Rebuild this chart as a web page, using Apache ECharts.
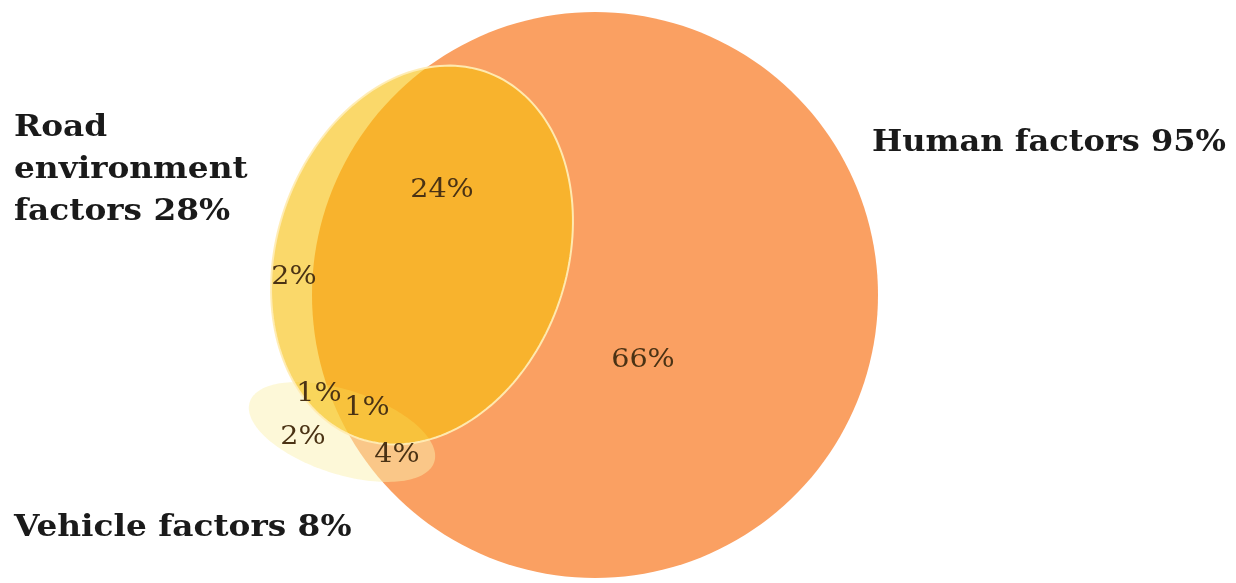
<!DOCTYPE html>
<html>
<head>
<meta charset="utf-8">
<script src="https://cdn.jsdelivr.net/npm/echarts@6/dist/echarts.min.js"></script>
<style>
html,body{margin:0;padding:0;background:#fff;}
#chart{width:1236px;height:583px;}
</style>
</head>
<body>
<div id="chart"></div>
<script>
// ---- data ----
const setNames = ['Human factors', 'Road\nenvironment\nfactors', 'Vehicle factors'];
const setTotals = [95, 28, 8];
const regionNames = ['Human only', 'Road ∩ Human', 'Road only', 'Road ∩ Vehicle', 'All three', 'Vehicle only', 'Vehicle ∩ Human'];
const regionValues = [66, 24, 2, 1, 1, 2, 4];

// ---- layout (positions / sizes in axis units = pixels) ----
const shapeLayout = [
  {cx: 595, cy: 295, rx: 283, ry: 283, rot: 0,  fill: '#FAA062', stroke: null},
  {cx: 422, cy: 255, rx: 145, ry: 194, rot: 19, fill: 'rgba(247,191,11,0.61)', stroke: 'rgba(255,236,180,0.95)'},
  {cx: 342, cy: 432, rx: 97,  ry: 42,  rot: 18, fill: 'rgba(251,241,175,0.49)', stroke: null}
];
// draw order: human, vehicle, road
const drawOrder = [0, 2, 1];
const regionPos = [[643, 360], [442, 190], [294, 277], [319, 394], [367, 408], [303, 437], [397, 455]];
const setLabelPos = [[872, 143], [14, 170], [14, 528]];
const setLabelScale = [1.105, 1.13, 1.13];

function ellipsePoints(s, api) {
  const pts = [];
  const n = 180;
  const r = s.rot * Math.PI / 180;
  for (let i = 0; i < n; i++) {
    const t = 2 * Math.PI * i / n;
    const ex = s.rx * Math.cos(t), ey = s.ry * Math.sin(t);
    const x = s.cx + ex * Math.cos(r) - ey * Math.sin(r);
    const y = s.cy + ex * Math.sin(r) + ey * Math.cos(r);
    pts.push(api.coord([x, y]));
  }
  return pts;
}

const chart = echarts.init(document.getElementById('chart'));
chart.setOption({
  backgroundColor: '#ffffff',
  animation: false,
  grid: {left: 0, right: 0, top: 0, bottom: 0},
  xAxis: {type: 'value', min: 0, max: 1236, show: false},
  yAxis: {type: 'value', min: 0, max: 583, inverse: true, show: false},
  series: [
    {
      type: 'custom',
      coordinateSystem: 'cartesian2d',
      data: drawOrder.map(i => [i, setTotals[i]]),
      renderItem: function (params, api) {
        const idx = api.value(0);
        const s = shapeLayout[idx];
        return {
          type: 'polygon',
          shape: {points: ellipsePoints(s, api)},
          style: {
            fill: s.fill,
            stroke: s.stroke || 'none',
            lineWidth: s.stroke ? 2 : 0
          }
        };
      },
      silent: true,
      z: 1
    },
    {
      type: 'custom',
      coordinateSystem: 'cartesian2d',
      data: regionValues.map((v, i) => [i, v]),
      renderItem: function (params, api) {
        const i = api.value(0);
        const p = api.coord(regionPos[i]);
        return {
          type: 'text',
          x: p[0], y: p[1],
          scaleX: 1.1,
          style: {
            text: api.value(1) + '%',
            fill: '#4a3214',
            font: '26px "DejaVu Serif", serif',
            align: 'center',
            verticalAlign: 'middle'
          }
        };
      },
      silent: true,
      z: 5
    },
    {
      type: 'custom',
      coordinateSystem: 'cartesian2d',
      data: setTotals.map((v, i) => [i, v]),
      renderItem: function (params, api) {
        const i = api.value(0);
        const lp = setLabelPos[i];
        const p = api.coord([lp[0], lp[1]]);
        return {
          type: 'text',
          x: p[0], y: p[1],
          scaleX: setLabelScale[i],
          style: {
            text: setNames[i] + ' ' + api.value(1) + '%',
            fill: '#1a1a1a',
            font: 'bold 29px "DejaVu Serif", serif',
            lineHeight: 42,
            align: 'left',
            verticalAlign: 'middle'
          }
        };
      },
      silent: true,
      z: 5
    }
  ]
});
</script>
</body>
</html>
